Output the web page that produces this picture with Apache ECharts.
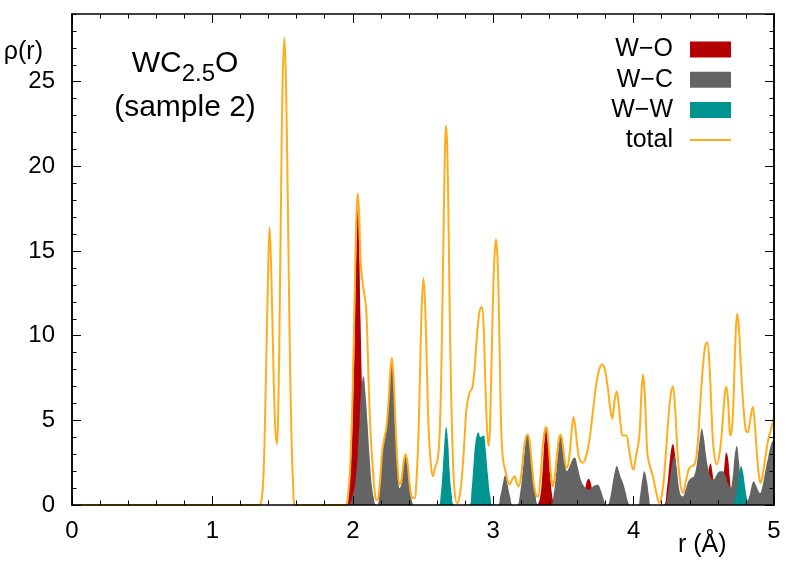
<!DOCTYPE html>
<html>
<head>
<meta charset="utf-8">
<script src="https://cdn.jsdelivr.net/npm/echarts@6.0.0/dist/echarts.min.js"></script>
<style>
  html, body { margin: 0; background: #fff; }
  #chart { width: 789px; height: 565px; }
</style>
</head>
<body>
<div id="chart"></div>
<script>
// pair partial g(r), [r, value]
const wO = [
  [0, 0], [1.94, 0], [1.96, 0.3], [1.98, 1.5], [2.0, 5.5], [2.015, 10.5], [2.025, 15], [2.035, 17.5],
  [2.045, 15.5], [2.055, 11], [2.07, 5.5], [2.085, 1.8], [2.1, 0.4], [2.12, 0],
  [3.3, 0], [3.33, 0.3], [3.35, 1.8], [3.365, 3.8], [3.378, 4.5], [3.39, 3.8], [3.405, 1.8], [3.425, 0.3], [3.44, 0],
  [3.63, 0], [3.65, 0.7], [3.667, 1.4], [3.68, 1.55], [3.695, 1.3], [3.71, 0.6], [3.73, 0],
  [4.21, 0], [4.235, 0.8], [4.255, 2.4], [4.27, 3.4], [4.28, 3.6], [4.295, 3.0], [4.31, 1.6], [4.33, 0.4], [4.35, 0],
  [4.5, 0], [4.52, 1.0], [4.535, 2.1], [4.548, 2.45], [4.56, 2.0], [4.575, 1.0], [4.6, 0],
  [4.61, 0], [4.635, 1.2], [4.65, 2.6], [4.66, 3.1], [4.672, 2.8], [4.685, 1.6], [4.7, 0.5], [4.72, 0], [5, 0]
];

const wC = [
  [0, 0], [1.96, 0], [1.99, 0.3], [2.02, 1.5], [2.045, 4.5], [2.06, 6.8], [2.076, 7.6], [2.09, 6.6],
  [2.105, 4.8], [2.12, 2.8], [2.135, 1.2], [2.15, 0.4], [2.165, 0],
  [2.175, 0], [2.19, 0.8], [2.205, 2.6], [2.22, 3.6], [2.235, 4.2], [2.25, 5.5], [2.265, 7.5], [2.278, 8.4],
  [2.29, 7.2], [2.305, 4.2], [2.32, 2.0], [2.333, 1.0], [2.345, 1.2], [2.36, 2.2], [2.375, 2.9], [2.39, 2.3],
  [2.405, 1.0], [2.42, 0.3], [2.44, 0],
  [3.03, 0], [3.05, 0.5], [3.07, 1.3], [3.085, 1.75], [3.1, 1.3], [3.12, 0.5], [3.14, 0],
  [3.17, 0], [3.19, 0.6], [3.21, 2.0], [3.23, 3.6], [3.246, 4.2], [3.26, 3.6], [3.28, 2.0], [3.3, 0.7], [3.325, 0],
  [3.41, 0], [3.43, 0.6], [3.45, 2.0], [3.468, 3.6], [3.48, 4.1], [3.495, 3.4], [3.51, 2.4], [3.525, 2.0],
  [3.545, 2.3], [3.565, 2.7], [3.58, 2.8], [3.6, 2.3], [3.62, 1.6], [3.64, 1.2], [3.66, 1.0], [3.68, 0.9],
  [3.7, 1.0], [3.72, 1.15], [3.745, 1.2], [3.765, 0.9], [3.785, 0.4], [3.805, 0],
  [3.815, 0], [3.835, 0.5], [3.855, 1.5], [3.87, 2.1], [3.88, 2.3], [3.895, 2.0], [3.91, 1.6], [3.925, 1.3],
  [3.945, 0.7], [3.96, 0.2], [3.975, 0],
  [4.03, 0], [4.045, 0.5], [4.06, 1.4], [4.077, 2.0], [4.095, 1.4], [4.11, 0.5], [4.125, 0],
  [4.22, 0], [4.24, 0.5], [4.26, 1.6], [4.278, 2.6], [4.291, 2.9], [4.305, 2.3], [4.32, 1.2], [4.335, 0.6],
  [4.35, 0.5], [4.37, 0.9], [4.39, 1.4], [4.41, 1.6], [4.43, 1.7], [4.45, 2.4], [4.47, 3.8], [4.486, 4.5],
  [4.5, 4.0], [4.515, 3.0], [4.53, 2.2], [4.545, 1.7], [4.56, 1.5], [4.58, 1.6], [4.6, 1.9], [4.615, 2.0],
  [4.635, 2.0], [4.655, 1.7], [4.675, 1.2], [4.69, 1.0], [4.705, 1.6], [4.72, 2.9], [4.735, 3.5], [4.75, 2.6],
  [4.765, 1.2], [4.78, 0.5], [4.8, 0.2], [4.82, 0.4], [4.84, 1.1], [4.855, 1.4], [4.87, 1.2], [4.885, 0.9],
  [4.9, 0.7], [4.92, 1.2], [4.94, 2.1], [4.96, 2.9], [4.98, 3.6], [5.0, 3.9]
];

const wW = [
  [0, 0], [2.61, 0], [2.625, 0.5], [2.64, 2.0], [2.655, 4.0], [2.665, 4.6], [2.678, 3.8], [2.69, 2.0], [2.705, 0.6], [2.725, 0],
  [2.83, 0], [2.845, 0.8], [2.86, 2.4], [2.875, 3.8], [2.895, 4.3], [2.91, 4.0], [2.92, 4.05], [2.933, 4.1],
  [2.945, 3.4], [2.962, 1.8], [2.98, 0.5], [3.0, 0],
  [4.7, 0], [4.72, 0.3], [4.74, 1.2], [4.755, 2.0], [4.766, 2.3], [4.78, 1.9], [4.795, 1.0], [4.81, 0.3], [4.83, 0], [5, 0]
];

const total = [
  [0, 0], [1.33, 0], [1.35, 0.3], [1.365, 2.0], [1.38, 7.0], [1.395, 13.0], [1.407, 16.4], [1.42, 13.5],
  [1.435, 8.0], [1.448, 4.5], [1.46, 3.6], [1.47, 6.0], [1.48, 12.0], [1.49, 19.0], [1.5, 25.0], [1.513, 27.6],
  [1.525, 24.5], [1.537, 18.0], [1.55, 10.0], [1.562, 4.5], [1.575, 1.2], [1.59, 0],
  [1.95, 0], [1.965, 0.5], [1.98, 2.0], [1.995, 5.5], [2.005, 9.0], [2.015, 13.0], [2.025, 16.8], [2.035, 18.4],
  [2.045, 17.2], [2.055, 14.5], [2.065, 13.5], [2.075, 12.8], [2.095, 11.6], [2.11, 8.0], [2.125, 4.5],
  [2.143, 2.1], [2.16, 0.5], [2.17, 0.3], [2.18, 0.4], [2.195, 1.5], [2.21, 3.2], [2.226, 4.0], [2.24, 4.6],
  [2.255, 6.2], [2.268, 8.0], [2.278, 8.7], [2.29, 7.6], [2.305, 4.6], [2.32, 2.2], [2.333, 1.2], [2.345, 1.4],
  [2.36, 2.4], [2.375, 3.0], [2.39, 2.5], [2.405, 1.2], [2.42, 0.5], [2.44, 0.4], [2.45, 1.0], [2.465, 3.5],
  [2.478, 7.5], [2.49, 11.5], [2.503, 13.4], [2.515, 11.8], [2.528, 8.0], [2.54, 4.5], [2.555, 2.5], [2.57, 1.7],
  [2.585, 2.2], [2.605, 2.7], [2.62, 4.5], [2.635, 10.0], [2.648, 17.0], [2.658, 21.5], [2.665, 22.4],
  [2.673, 21.0], [2.683, 16.0], [2.695, 9.0], [2.71, 3.5], [2.725, 0.8], [2.744, 0.1], [2.76, 0.5], [2.78, 2.0],
  [2.795, 3.8], [2.81, 5.7], [2.83, 6.6], [2.85, 6.9], [2.865, 7.8], [2.88, 9.5], [2.895, 11.0], [2.908, 11.6],
  [2.919, 11.7], [2.932, 10.5], [2.945, 7.0], [2.958, 4.2], [2.969, 3.5], [2.98, 5.5], [2.995, 11.0],
  [3.008, 14.5], [3.02, 15.7], [3.032, 14.3], [3.045, 9.5], [3.057, 4.5], [3.07, 2.7], [3.09, 1.9],
  [3.105, 1.4], [3.116, 1.2], [3.135, 1.5], [3.152, 1.7], [3.168, 1.3], [3.18, 1.1], [3.2, 1.8], [3.215, 3.0],
  [3.23, 3.9], [3.246, 4.15], [3.26, 3.7], [3.275, 2.4], [3.29, 1.2], [3.305, 0.6], [3.318, 0.5], [3.335, 1.5],
  [3.35, 3.2], [3.365, 4.3], [3.378, 4.6], [3.39, 4.0], [3.405, 2.4], [3.415, 1.5], [3.425, 1.1], [3.44, 1.8],
  [3.455, 3.0], [3.468, 3.9], [3.48, 4.15], [3.495, 3.6], [3.51, 2.6], [3.524, 2.2], [3.54, 2.7], [3.555, 4.0],
  [3.572, 5.2], [3.585, 4.6], [3.6, 3.4], [3.615, 2.7], [3.638, 2.5], [3.662, 2.9], [3.686, 3.9], [3.71, 5.5],
  [3.735, 7.2], [3.755, 8.0], [3.776, 8.3], [3.795, 8.0], [3.815, 7.0], [3.835, 5.6], [3.848, 5.1],
  [3.865, 6.2], [3.88, 6.7], [3.895, 5.8], [3.91, 4.6], [3.923, 4.1], [3.947, 4.1], [3.965, 3.4], [3.985, 2.4],
  [3.999, 2.1], [4.015, 2.8], [4.04, 4.0], [4.055, 6.5], [4.066, 7.7], [4.078, 6.8], [4.09, 4.5], [4.1, 2.9],
  [4.12, 2.2], [4.137, 1.7], [4.16, 0.8], [4.184, 0.1], [4.205, 0.8], [4.225, 2.5], [4.245, 4.8], [4.262, 6.4],
  [4.279, 7.0], [4.295, 5.8], [4.31, 3.5], [4.327, 1.7], [4.35, 0.7], [4.375, 1.5], [4.398, 2.2], [4.434, 2.4],
  [4.455, 3.5], [4.475, 6.0], [4.495, 8.3], [4.51, 9.4], [4.524, 9.6], [4.54, 8.3], [4.555, 5.5], [4.57, 3.3],
  [4.593, 2.4], [4.615, 3.2], [4.635, 5.0], [4.65, 6.6], [4.66, 7.0], [4.672, 6.2], [4.69, 4.1], [4.705, 5.0],
  [4.72, 8.5], [4.73, 10.6], [4.738, 11.3], [4.75, 10.5], [4.765, 8.0], [4.785, 5.5], [4.8, 4.4], [4.813, 4.3],
  [4.83, 5.0], [4.849, 5.8], [4.865, 4.6], [4.88, 2.8], [4.895, 1.6], [4.904, 1.3], [4.92, 1.8], [4.94, 2.9],
  [4.96, 3.9], [4.98, 4.5], [5.0, 5.2]
];

const seriesNames = ["W\u2212O", "W\u2212C", "W\u2212W", "total"];
const seriesColors = ["#b40000", "#646464", "#009490", "#ffad1c"];
const xRange = [0, 5];
const yRange = [0, 29];

const FONT = "Liberation Sans, Arial, sans-serif";
const chart = echarts.init(document.getElementById("chart"), null, { renderer: "canvas" });

function frameAxis(position, interval, tickLength, extra) {
  const isX = position === "bottom" || position === "top";
  const range = isX ? xRange : yRange;
  return Object.assign({
    type: "value",
    position: position,
    min: range[0],
    max: range[1],
    interval: interval,
    z: 5,
    axisLine: { show: true, onZero: false, lineStyle: { color: "#000", width: 1.5 } },
    axisTick: { show: true, inside: true, length: tickLength, lineStyle: { color: "#000", width: 1 } },
    minorTick: { show: false },
    splitLine: { show: false },
    axisLabel: { show: false },
  }, extra || {});
}

function areaSeries(idx, data) {
  return {
    name: seriesNames[idx],
    type: "line",
    data: data,
    smooth: 0.4,
    symbol: "none",
    clip: true,
    itemStyle: { color: seriesColors[idx] },
    lineStyle: { width: 0, color: seriesColors[idx] },
    areaStyle: { color: seriesColors[idx], opacity: 1 },
  };
}

chart.setOption({
  animation: false,
  backgroundColor: "#fff",
  textStyle: { fontFamily: FONT },
  grid: { left: 72, right: 15, top: 14, bottom: 60, outerBoundsMode: "none" },
  legend: {
    orient: "vertical",
    right: 53,
    top: 32,
    align: "right",
    itemWidth: 41,
    itemHeight: 16,
    itemGap: 5.2,
    symbolKeepAspect: true,
    textStyle: { fontSize: 25, color: "#000", fontFamily: FONT, padding: [0, 12, 0, 0] },
    data: [
      { name: seriesNames[0], icon: "rect" },
      { name: seriesNames[1], icon: "rect" },
      { name: seriesNames[2], icon: "rect" },
      { name: seriesNames[3], icon: "path://M0,0H41V2H0Z" },
    ],
  },
  graphic: [{
    type: "text",
    x: 185,
    y: 42,
    style: {
      text: "{m|WC}{s|2.5}{m|O}\n{m|(sample 2)}",
      align: "center",
      verticalAlign: "top",
      fill: "#000",
      rich: {
        m: { fontSize: 30, fontFamily: FONT, lineHeight: 44, align: "center", fill: "#000" },
        s: { fontSize: 24, fontFamily: FONT, lineHeight: 24, verticalAlign: "bottom", align: "center", fill: "#000" },
      },
    },
  }],
  xAxis: [
    frameAxis("bottom", 1, 9, {
      minorTick: { show: true, splitNumber: 5, length: 4.5, lineStyle: { color: "#000", width: 1 } },
      axisLabel: { show: true, fontSize: 24, color: "#000", fontFamily: FONT, margin: 14 },
      name: "r (\u00c5)",
      nameLocation: "end",
      nameGap: -96,
      nameMoveOverlap: false,
      nameTextStyle: { fontSize: 25, color: "#000", fontFamily: FONT, align: "left", verticalAlign: "top", padding: [28, 0, 0, 0] },
    }),
    frameAxis("top", 1, 9, {
      minorTick: { show: true, splitNumber: 5, length: 4.5, lineStyle: { color: "#000", width: 1 } },
    }),
  ],
  yAxis: [
    frameAxis("left", 5, 9, {
      axisLabel: { show: true, fontSize: 24, color: "#000", fontFamily: FONT, margin: 17, showMaxLabel: false },
      name: "\u03c1(r)",
      nameLocation: "end",
      nameGap: -38,
      nameMoveOverlap: false,
      nameTextStyle: { fontSize: 25, color: "#000", fontFamily: FONT, align: "right", verticalAlign: "middle", padding: [0, 29, 0, 0] },
    }),
    frameAxis("left", 1, 4.5),
    frameAxis("right", 5, 9),
    frameAxis("right", 1, 4.5),
  ],
  series: [
    areaSeries(0, wO),
    areaSeries(1, wC),
    areaSeries(2, wW),
    {
      name: seriesNames[3],
      type: "line",
      data: total,
      smooth: 0.4,
      symbol: "none",
      clip: true,
      itemStyle: { color: seriesColors[3] },
      lineStyle: { width: 2, color: seriesColors[3] },
    },
  ],
});
</script>
</body>
</html>
